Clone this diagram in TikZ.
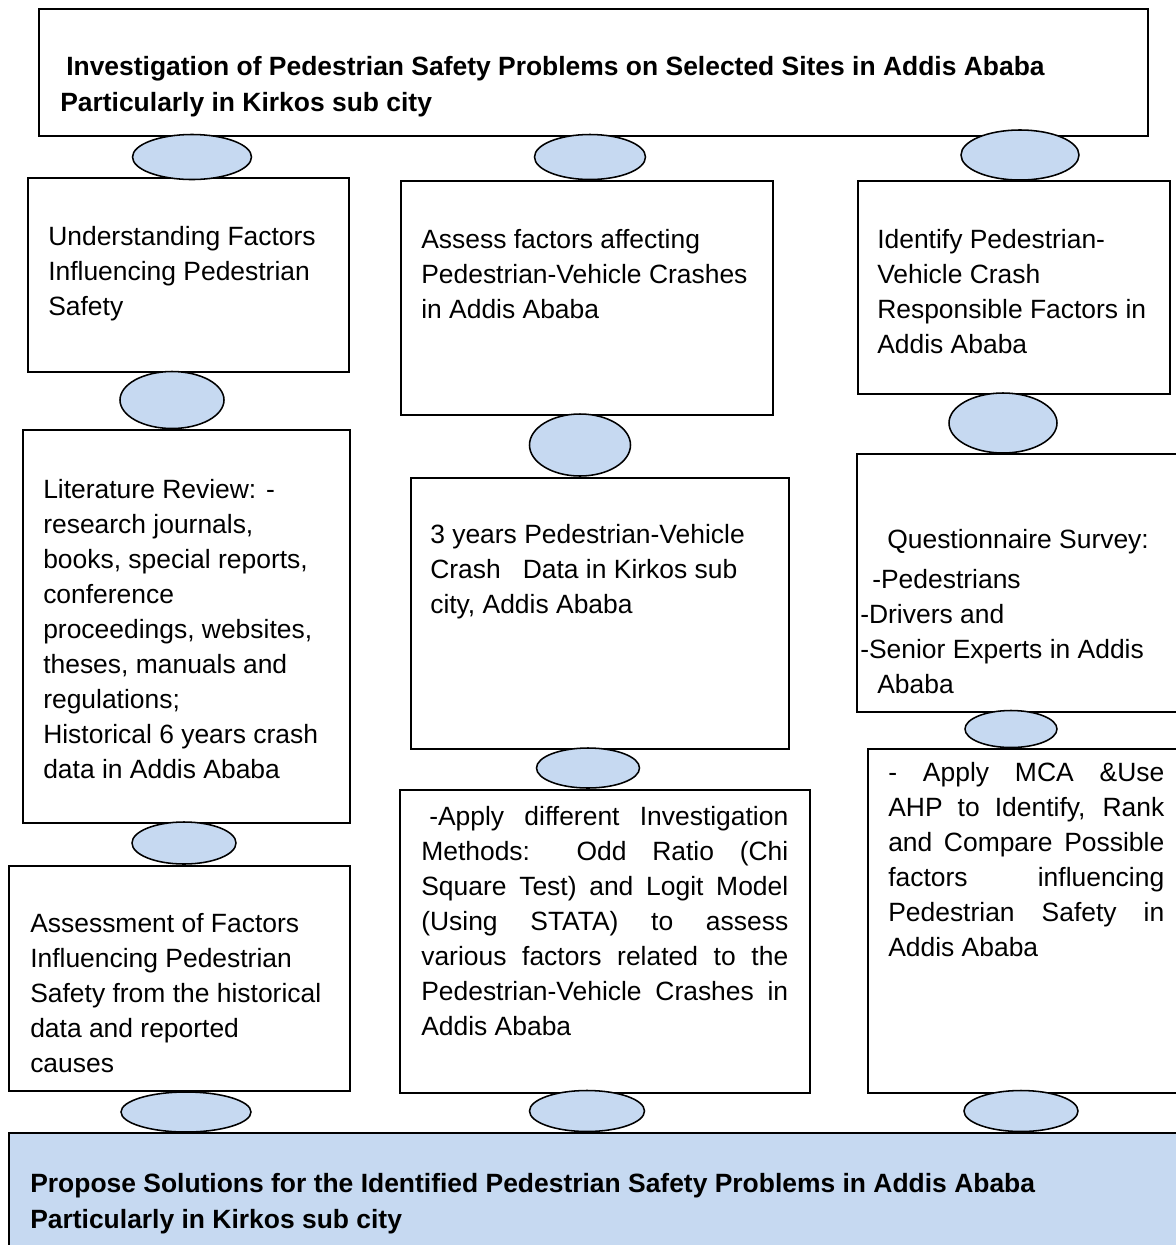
\documentclass[tikz,border=0pt]{standalone}
\usepackage{fontspec}
\setmainfont{Liberation Sans}
\usetikzlibrary{shapes.geometric}
\definecolor{linkblue}{HTML}{C6D9F1}
\newlength\px
\setlength\px{0.025cm}
\tikzset{
  box/.style={draw, line width=1.1pt, anchor=north west, inner sep=0pt},
  txt/.style={anchor=north west, inner sep=0pt, align=left, font=\fontsize{18.8}{24.9}\selectfont},
  jtxt/.style={txt, align=justify},
  headtxt/.style={txt, font=\bfseries\fontsize{18.8}{25.6}\selectfont},
  conn/.style={ellipse, draw, line width=1.1pt, fill=linkblue, inner sep=0pt},
}
\begin{document}
\begin{tikzpicture}[x=0.025cm, y=-0.025cm]
\useasboundingbox (0,0) rectangle (1176,1245);

\node[box, minimum width=1109\px, minimum height=127\px] (top) at (38,8) {};
\node[headtxt] (toptxt) at ([shift={(22,48)}]top.north west)
  {\hspace*{6\px}Investigation of Pedestrian Safety Problems on Selected Sites in Addis Ababa\\Particularly in Kirkos sub city};

\node[box, minimum width=321\px, minimum height=194\px] (boxA1) at (27,177) {};
\node[txt] (txtA1) at ([shift={(21,49)}]boxA1.north west)
  {Understanding Factors\\Influencing Pedestrian\\Safety};
\node[box, minimum width=327\px, minimum height=393\px] (boxA2) at (22,429) {};
\node[txt] (txtA2) at ([shift={(21,50)}]boxA2.north west)
  {Literature Review: -\\research journals,\\books, special reports,\\conference\\proceedings, websites,\\theses, manuals and\\regulations;\\Historical 6 years crash\\data in Addis Ababa};
\node[box, minimum width=341\px, minimum height=225\px] (boxA3) at (8,865) {};
\node[txt] (txtA3) at ([shift={(22,48)}]boxA3.north west)
  {Assessment of Factors\\Influencing Pedestrian\\Safety from the historical\\data and reported\\causes};

\node[box, minimum width=372\px, minimum height=234\px] (boxB1) at (400,180) {};
\node[txt] (txtB1) at ([shift={(21,49)}]boxB1.north west)
  {Assess factors affecting\\Pedestrian-Vehicle Crashes\\in Addis Ababa};
\node[box, minimum width=378\px, minimum height=271\px] (boxB2) at (410,477) {};
\node[txt] (txtB2) at ([shift={(20,47)}]boxB2.north west)
  {3 years Pedestrian-Vehicle\\Crash~~ Data in Kirkos sub\\city, Addis Ababa};
\node[box, minimum width=410\px, minimum height=303\px] (boxB3) at (399,789) {};
\node[jtxt, text width=367\px] (txtB3) at ([shift={(22,17)}]boxB3.north west)
  {\hspace*{8\px}-Apply different Investigation\linebreak Methods: Odd Ratio (Chi\linebreak Square Test) and Logit Model\linebreak (Using STATA) to assess\linebreak various factors related to the\linebreak Pedestrian-Vehicle Crashes in\linebreak Addis Ababa};

\node[box, minimum width=312\px, minimum height=213\px] (boxC1) at (857,180) {};
\node[txt] (txtC1) at ([shift={(20,49)}]boxC1.north west)
  {Identify Pedestrian-\\Vehicle Crash\\Responsible Factors in\\Addis Ababa};
\node[box, minimum width=330\px, minimum height=258\px] (boxC2) at (856,453) {};
\node[txt] (txtC2) at ([shift={(4,76)}]boxC2.north west)
  {\hspace*{27\px}Questionnaire Survey:\\[5\px]\hspace*{12\px}-Pedestrians\\-Drivers and\\-Senior Experts in Addis\\\hspace*{17\px}Ababa};
\node[box, minimum width=320\px, minimum height=344\px] (boxC3) at (867,748) {};
\node[jtxt, text width=276\px] (txtC3) at ([shift={(21,14)}]boxC3.north west)
  {- Apply MCA \&Use\linebreak AHP to Identify, Rank\linebreak and Compare Possible\linebreak factors influencing\linebreak Pedestrian Safety in\linebreak Addis Ababa};

\node[box, fill=linkblue, minimum width=1180\px, minimum height=120\px] (bottom) at (8,1132) {};
\node[headtxt] (bottomtxt) at ([shift={(22,41)}]bottom.north west)
  {Propose Solutions for the Identified Pedestrian Safety Problems in Addis Ababa\\Particularly in Kirkos sub city};

\foreach \nm/\cx/\cy/\w/\h in {linkA1/192/157/119/45, linkB1/590/157/111/45, linkC1/1020/155/118/50,
  linkA2/172/400/104/57, linkB2/580/445/101/62, linkC2/1003/423/108/60,
  linkA3/184/843/104/42, linkB3/588/768/103/40, linkC3/1011/729/92/37,
  linkA4/186/1112/130/40, linkB4/587/1111/115/41, linkC4/1021/1111/114/41}
  \node[conn, minimum width=\w\px, minimum height=\h\px] (\nm) at (\cx,\cy) {};
\end{tikzpicture}
\end{document}
